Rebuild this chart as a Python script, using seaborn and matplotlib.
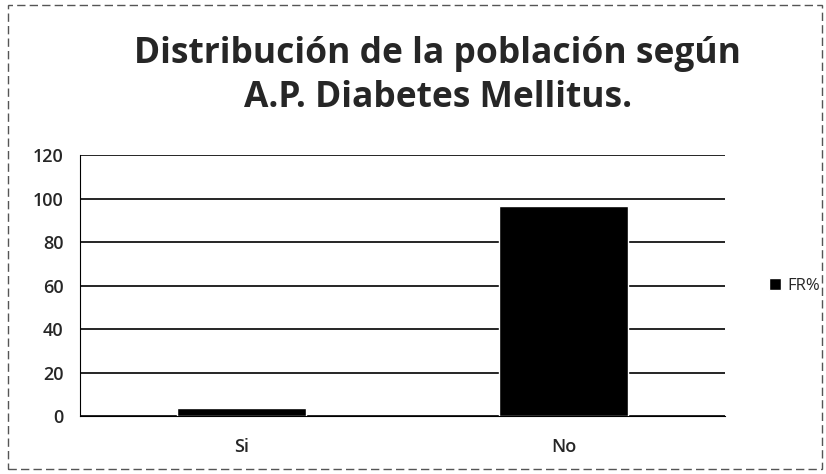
import pandas as pd
import matplotlib.pyplot as plt
import seaborn as sns
from matplotlib.patches import Patch, Rectangle

categorias = ["Si", "No"]
fr_pct = [3.6, 96.4]
yticks = [0, 20, 40, 60, 80, 100, 120]

df = pd.DataFrame({"categoria": categorias, "FR%": fr_pct})

sns.set_style("white")
plt.rcParams["font.family"] = ["Open Sans", "DejaVu Sans"]

fig = plt.figure(figsize=(8.26, 4.74), dpi=100)
ax = fig.add_axes([0.097, 0.122, 0.781, 0.551])

sns.barplot(data=df, x="categoria", y="FR%", color="black", width=0.4, ax=ax)

ax.set_ylim(0, 120)
ax.set_yticks(yticks)
ax.set_xlim(-0.5, 1.5)
ax.yaxis.grid(True, color="black", linewidth=1.2)
ax.set_axisbelow(True)
for s in ["top", "right"]:
    ax.spines[s].set_visible(False)
ax.spines["left"].set_color("black")
ax.spines["bottom"].set_color("black")
ax.set_xlabel("")
ax.set_ylabel("")
ax.tick_params(axis="both", labelsize=13, length=0)
ax.tick_params(axis="y", pad=12)
ax.tick_params(axis="x", pad=16)
for lbl in ax.get_xticklabels() + ax.get_yticklabels():
    lbl.set_fontweight("semibold")
ax.set_xticks([-0.5, 0.5, 1.5], minor=True)
ax.tick_params(axis="x", which="minor", length=5, color="black")

fig.suptitle("Distribución de la población según\nA.P. Diabetes Mellitus.",
             x=0.53, y=0.925, fontsize=25.5, fontweight="bold", linespacing=1.3)

ax.legend(handles=[Patch(facecolor="black", label="FR%")], loc="center left",
          bbox_to_anchor=(1.045, 0.5), frameon=False, fontsize=12,
          handlelength=0.7, handleheight=0.7, handletextpad=0.4)

fig.patches.append(Rectangle((0.01, 0.01), 0.985, 0.98, transform=fig.transFigure,
                             fill=False, edgecolor="#555555", linewidth=1,
                             linestyle=(0, (6, 3))))

plt.savefig("out.png", dpi=100)
